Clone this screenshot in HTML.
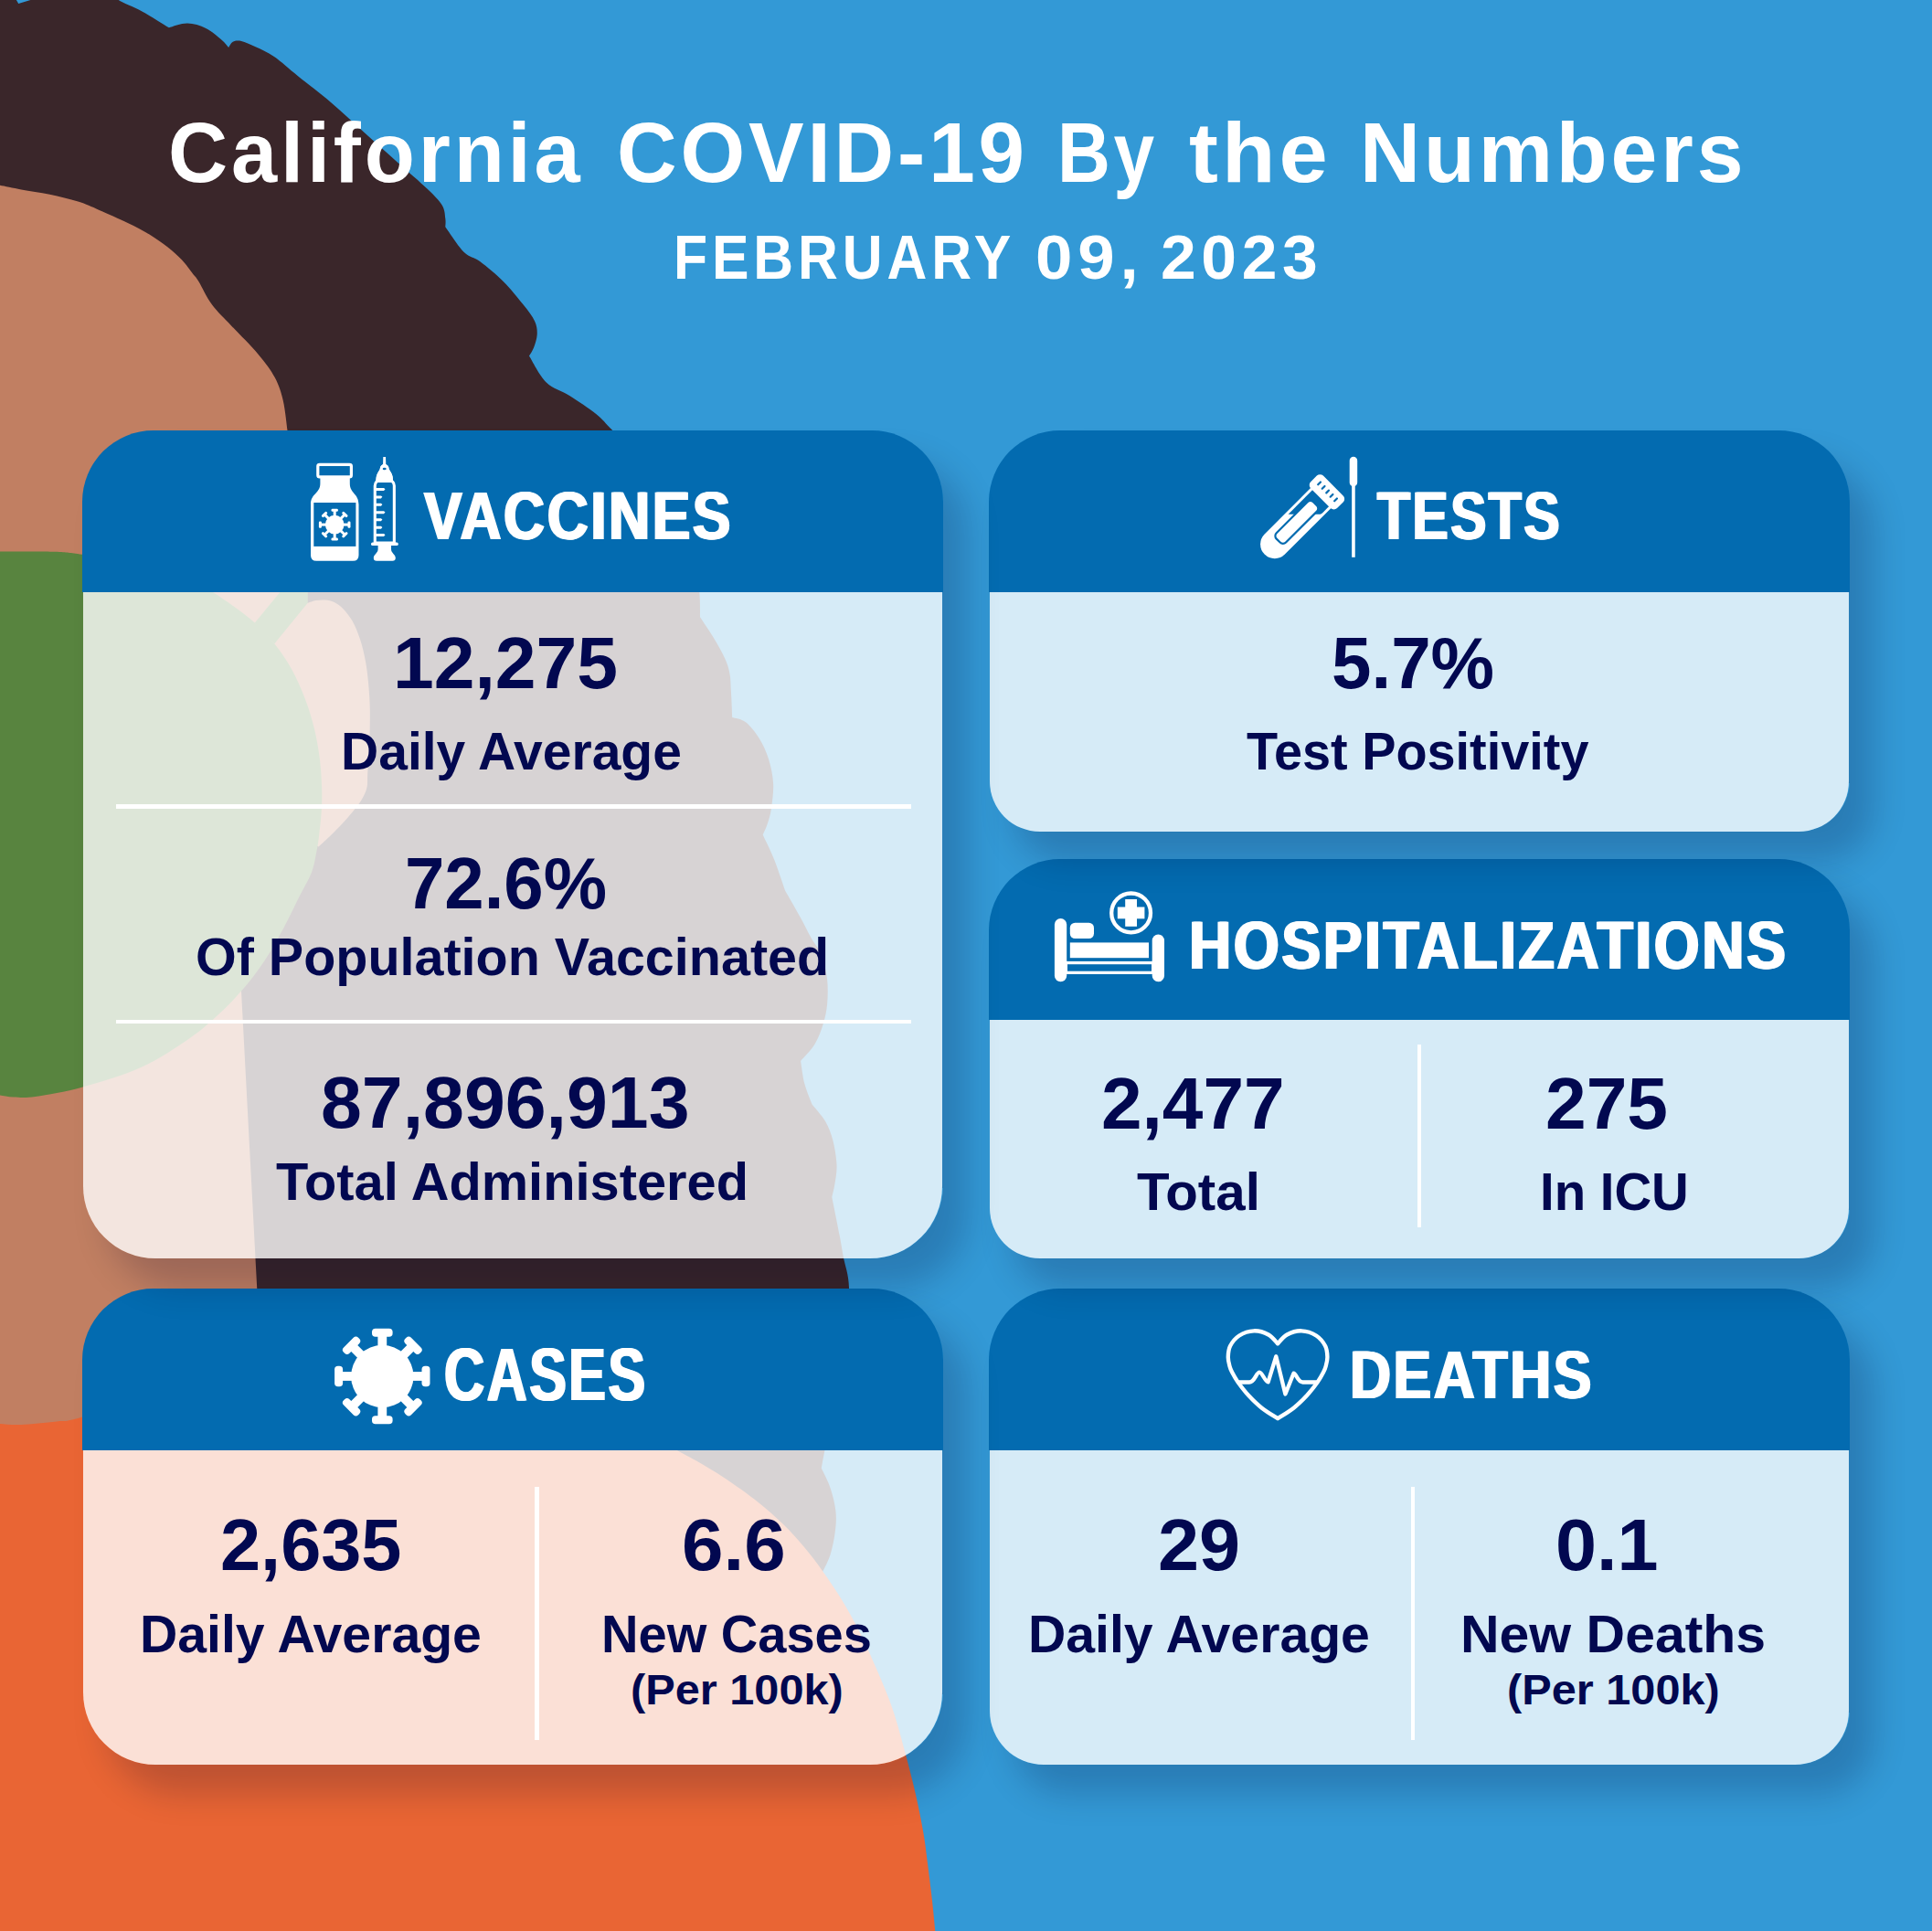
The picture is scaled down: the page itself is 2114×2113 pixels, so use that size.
<!DOCTYPE html>
<html><head><meta charset="utf-8"><title>California COVID-19 By the Numbers</title>
<style>
html,body{margin:0;padding:0}
body{width:2114px;height:2113px;position:relative;overflow:hidden;background:#3399D6;font-family:"Liberation Sans",sans-serif;font-weight:bold}
svg{position:absolute;left:0;top:0}
.card{position:absolute;border-radius:78px;box-shadow:26px 32px 36px rgba(0,0,43,0.19)}
.card .hd{position:absolute;left:0;top:0;right:0;background:#036BB0;border-radius:78px 78px 0 0}
.card .bd{position:absolute;left:1px;right:1px;bottom:0;background:rgba(255,255,255,0.8);border-radius:0 0 77px 77px}
.rs{position:absolute;right:0;width:1px;background:rgba(0,0,43,0.17)}
.hl{position:absolute;height:4.5px;background:#fff}
.vl{position:absolute;width:4.5px;background:#fff}
.t{position:absolute;white-space:nowrap;line-height:1;transform-origin:0 0}
</style></head><body>
<svg width="2114" height="2113" viewBox="0 0 2114 2113">
<path d="M-5,190 L100,190 L250,250 L345,380 L345,1700 L-5,1700 Z" fill="#C17F62"/>
<path d="M278.8,681.4 L334,614.5 L373.9,614.4 L300.4,704.6 Z" fill="#58843F"/>
<path d="M129.7,-5.0 C129.7,-4.2 125.4,-2.9 129.7,0.0 C134.0,2.9 146.2,7.4 155.4,12.4 C164.6,17.4 180.0,27.3 184.9,30.3 C188.2,29.5 198.3,25.5 205.0,25.6 C211.7,25.7 219.1,28.0 225.3,31.0 C231.5,34.0 238.2,40.0 242.3,43.5 C246.4,47.0 248.8,50.6 250.1,52.0 C250.9,51.0 252.5,47.0 254.8,45.8 C257.1,44.6 260.0,44.1 264.1,45.0 C268.2,45.9 273.6,48.4 279.6,51.3 C285.6,54.1 292.3,56.8 300.0,62.1 C307.7,67.4 315.7,75.0 326.0,83.3 C336.3,91.6 349.9,101.7 362.0,112.0 C374.1,122.3 386.5,134.1 398.6,145.0 C410.7,155.9 423.3,167.2 434.8,177.5 C446.3,187.8 459.2,198.7 467.4,206.5 C475.5,214.3 480.4,219.2 483.7,224.6 C487.0,230.0 486.7,235.1 487.3,239.0 C487.9,242.9 487.3,246.7 487.3,248.2 C490.6,252.7 500.9,269.1 507.2,275.4 C513.5,281.7 518.1,280.8 525.4,286.2 C532.6,291.6 542.9,300.1 550.7,308.0 C558.6,315.9 566.8,326.1 572.5,333.3 C578.2,340.5 582.6,345.9 585.1,351.4 C587.6,356.8 587.9,361.2 587.7,366.0 C587.5,370.8 585.5,376.5 584.0,380.4 C582.5,384.3 579.8,388.0 579.0,389.5 C582.1,394.3 590.4,411.2 597.8,418.5 C605.2,425.8 614.1,427.2 623.2,433.0 C632.3,438.8 644.4,446.7 652.2,453.0 C660.1,459.3 661.5,462.3 670.3,471.0 C679.1,479.7 693.4,490.2 705.0,505.0 C716.6,519.8 730.8,542.5 740.0,560.0 C749.2,577.5 755.8,595.3 760.0,610.0 C764.2,624.7 764.3,637.4 765.3,648.3 C766.3,659.2 765.9,670.7 766.0,675.2 C768.5,679.0 776.4,690.4 780.9,698.0 C785.4,705.6 790.4,714.2 793.3,720.8 C796.2,727.4 797.4,731.5 798.5,737.4 C799.6,743.3 799.4,748.1 799.9,756.0 C800.4,763.9 801.0,780.2 801.2,785.0 C803.7,785.9 811.1,786.4 816.0,790.2 C820.9,794.0 826.4,801.1 830.6,807.8 C834.8,814.5 838.4,822.3 841.0,830.6 C843.6,838.9 845.6,848.5 846.1,857.5 C846.6,866.5 845.0,877.1 844.0,884.4 C843.0,891.6 841.4,896.2 839.9,901.0 C838.4,905.8 835.6,911.3 834.7,913.4 C836.8,917.9 843.0,930.0 847.1,940.4 C851.2,950.8 857.5,969.7 859.6,975.6 C862.4,980.4 871.4,996.0 876.1,1004.6 C880.8,1013.2 884.2,1020.3 888.0,1027.0 C891.8,1033.7 896.0,1037.4 898.9,1044.9 C901.8,1052.4 904.1,1062.8 905.1,1071.8 C906.1,1080.8 905.8,1090.8 905.1,1098.7 C904.4,1106.6 903.2,1112.2 901.0,1119.4 C898.8,1126.7 895.9,1135.3 891.7,1142.2 C887.6,1149.1 878.7,1157.8 876.1,1160.9 C876.8,1165.0 878.2,1177.8 880.3,1185.7 C882.4,1193.6 887.2,1204.7 888.6,1208.5 C891.0,1211.6 899.3,1220.5 903.1,1227.1 C906.9,1233.7 909.3,1240.0 911.4,1247.9 C913.5,1255.9 915.2,1266.9 915.5,1274.8 C915.8,1282.7 914.3,1289.6 913.4,1295.5 C912.5,1301.4 910.8,1307.6 910.3,1310.0 C911.7,1316.9 916.5,1340.5 918.6,1351.4 C920.7,1362.3 921.1,1365.5 922.8,1375.2 C924.5,1384.9 928.6,1393.6 929.0,1409.4 C929.4,1425.2 927.8,1448.2 925.0,1470.0 C922.2,1491.8 915.8,1520.5 912.0,1540.0 C908.2,1559.5 904.6,1575.8 902.4,1586.9 C900.2,1598.0 899.4,1603.3 898.8,1606.6 C900.4,1610.2 906.0,1620.6 908.6,1628.4 C911.2,1636.2 913.5,1645.3 914.4,1653.2 C915.3,1661.1 914.8,1668.0 913.8,1676.0 C912.8,1684.0 910.9,1693.7 908.6,1700.9 C906.4,1708.2 901.7,1716.4 900.3,1719.5 L700.0,1760.0 L285.0,1760.0 L281.3,1411.0 L264.0,1084.6 L262.5,1060.0 L300.0,1000.0 L330.0,950.0 L340.0,880.0 L340.0,700.0 L336.8,660.0 L336.8,648.0 L330.0,560.0 L314.5,471.0 C313.7,465.6 312.1,448.1 309.8,438.4 C307.5,428.7 305.2,421.4 300.7,413.0 C296.2,404.6 290.5,397.1 282.6,387.7 C274.8,378.3 262.1,366.0 253.6,356.9 C245.1,347.8 237.9,341.4 231.9,333.3 C225.9,325.2 220.8,313.6 217.4,308.0 C214.0,302.4 214.4,303.9 211.3,300.0 C208.2,296.1 203.6,289.2 198.9,284.3 C194.2,279.4 189.3,275.0 183.3,270.3 C177.3,265.6 170.3,260.7 163.1,256.3 C155.8,251.9 148.9,248.3 139.8,243.9 C130.7,239.5 117.8,233.8 108.7,229.9 C99.6,226.0 94.5,223.4 85.4,220.6 C76.4,217.8 64.8,215.0 54.4,212.8 C44.0,210.6 32.4,209.1 23.3,207.4 C14.2,205.7 4.7,203.6 0.0,202.7 C-4.7,201.8 -4.2,202.1 -5.0,202.0 L-5,-5 L17.9,-5 L17.9,0 L20.2,3.9 L33.4,0 L33.4,-5 Z" fill="#3A262A"/>
<path d="M336.8,659.9 C338.3,659.4 342.7,657.6 345.9,657.1 C349.1,656.6 352.6,656.3 355.9,656.6 C359.2,656.9 362.5,657.5 365.8,659.1 C369.1,660.8 372.4,663.0 375.7,666.5 C379.0,670.0 382.6,674.3 385.7,679.8 C388.8,685.3 391.6,692.4 394.0,699.6 C396.4,706.8 398.3,714.8 399.8,722.8 C401.3,730.8 402.3,739.4 403.1,747.7 C403.9,756.0 404.4,764.2 404.7,772.5 C405.0,780.8 404.8,789.1 404.7,797.4 C404.6,805.7 404.3,813.9 403.9,822.2 C403.5,830.5 402.6,840.5 402.2,847.1 C401.8,853.7 402.5,857.3 401.4,862.0 C400.3,866.7 398.2,870.9 395.6,875.3 C393.0,879.7 389.3,884.1 385.7,888.5 C382.1,892.9 378.0,897.6 374.1,901.8 C370.2,905.9 366.8,909.3 362.5,913.4 C358.2,917.5 350.8,924.4 348.4,926.6 L310,900 L300.4,704.6 Z" fill="#C17F62"/>
<path d="M-5.0,603.4 C-4.2,603.4 -10.8,603.5 0.0,603.6 C10.8,603.7 45.0,603.3 60.0,603.8 C75.0,604.3 75.0,604.9 90.0,606.8 C105.0,608.7 131.7,610.8 150.0,615.0 C168.3,619.2 186.2,626.5 200.0,632.0 C213.8,637.5 219.9,639.8 233.0,648.0 C246.1,656.2 267.6,672.0 278.8,681.4 C290.0,690.8 293.6,696.0 300.4,704.6 C307.2,713.2 313.8,722.6 319.4,732.8 C325.0,743.0 330.1,754.9 334.3,765.9 C338.5,776.9 341.7,788.0 344.3,799.0 C346.9,810.0 348.8,821.4 350.1,832.2 C351.4,843.0 351.9,854.3 352.2,863.7 C352.5,873.1 352.2,880.2 351.7,888.5 C351.2,896.8 350.0,906.5 349.2,913.4 C348.4,920.3 348.1,923.1 346.7,930.0 C345.3,936.9 344.2,946.1 340.9,954.8 C337.6,963.5 332.0,972.0 327.0,982.0 C322.0,992.0 317.0,1003.0 310.7,1014.7 C304.4,1026.4 296.8,1040.3 289.0,1052.0 C281.2,1063.7 272.7,1074.6 264.0,1084.6 C255.3,1094.6 246.5,1103.4 237.0,1112.0 C227.5,1120.6 220.6,1127.2 207.0,1136.4 C193.4,1145.7 174.8,1158.7 155.4,1167.5 C136.0,1176.3 110.0,1184.1 90.6,1189.5 C71.2,1194.9 51.4,1198.1 38.8,1199.9 C26.2,1201.7 21.5,1200.7 15.0,1200.5 C8.5,1200.3 3.3,1198.9 0.0,1198.5 C-3.3,1198.1 -4.2,1198.1 -5.0,1198.0 Z" fill="#58843F"/>
<path d="M-5.0,1557.5 C-4.2,1557.6 -4.7,1557.7 0.0,1557.9 C4.7,1558.2 12.7,1559.4 23.0,1559.0 C33.3,1558.6 50.8,1556.9 62.0,1555.5 C73.2,1554.1 67.0,1557.3 90.0,1550.6 C113.0,1543.8 148.3,1528.4 200.0,1515.0 C251.7,1501.6 340.0,1472.5 400.0,1470.0 C460.0,1467.5 516.7,1487.5 560.0,1500.0 C603.3,1512.5 629.9,1530.5 660.0,1545.0 C690.1,1559.5 720.1,1575.8 740.8,1586.9 C761.5,1598.0 770.1,1602.8 784.3,1611.8 C798.4,1620.8 813.6,1631.5 825.7,1640.8 C837.8,1650.1 847.8,1659.1 856.8,1667.7 C865.8,1676.3 872.4,1684.0 879.6,1692.6 C886.9,1701.2 893.4,1709.8 900.3,1719.5 C907.2,1729.2 914.1,1739.2 921.0,1750.6 C927.9,1762.0 935.1,1774.8 941.7,1787.9 C948.3,1801.0 954.5,1815.5 960.4,1829.3 C966.3,1843.1 971.8,1855.6 976.9,1870.7 C982.0,1885.8 986.8,1904.4 991.0,1920.0 C995.2,1935.6 998.9,1950.0 1002.1,1964.3 C1005.3,1978.6 1008.2,1993.1 1010.4,2005.7 C1012.6,2018.3 1013.5,2027.6 1015.1,2040.0 C1016.7,2052.4 1018.5,2066.7 1020.0,2080.0 C1021.5,2093.3 1023.3,2113.3 1024.0,2120.0 L-5,2120 Z" fill="#E96534"/>
</svg>
<div class="card" id="deaths" style="left:1081.7px;top:1410.4px;width:942.0px;height:520.3px;border-radius:78px 78px 60px 60px"><div class="hd" style="height:176.3px"></div><div class="bd" style="top:176.3px;border-radius:0 0 59px 59px"></div><div class="rs" style="top:176.3px;bottom:57px"></div><div class="vl" style="left:462.0999999999999px;top:216.29999999999995px;height:277px"></div></div>
<div class="card" id="cases" style="left:90px;top:1410.4px;width:941.9px;height:520.3px;border-radius:78px 78px 80px 80px"><div class="hd" style="height:176.3px"></div><div class="bd" style="top:176.3px;border-radius:0 0 79px 79px"></div><div class="rs" style="top:176.3px;bottom:77px"></div><div class="vl" style="left:495px;top:216.29999999999995px;height:277px"></div></div>
<div class="card" id="hosp" style="left:1081.7px;top:940.3px;width:942.0px;height:436.7px;border-radius:78px 78px 56px 56px"><div class="hd" style="height:175.3px"></div><div class="bd" style="top:175.3px;border-radius:0 0 55px 55px"></div><div class="rs" style="top:175.3px;bottom:53px"></div><div class="vl" style="left:468.89999999999986px;top:202.79999999999995px;height:199.5px"></div></div>
<div class="card" id="tests" style="left:1081.7px;top:471px;width:942.0px;height:438.8px;border-radius:78px 78px 56px 56px"><div class="hd" style="height:177px"></div><div class="bd" style="top:177px;border-radius:0 0 55px 55px"></div><div class="rs" style="top:177px;bottom:53px"></div></div>
<div class="card" id="vacc" style="left:90px;top:471px;width:941.9px;height:906.0px;border-radius:78px 78px 80px 80px"><div class="hd" style="height:177px"></div><div class="bd" style="top:177px;border-radius:0 0 79px 79px"></div><div class="rs" style="top:177px;bottom:77px"></div><div class="hl" style="left:37px;top:409.20000000000005px;width:869.5px"></div><div class="hl" style="left:37px;top:644.5999999999999px;width:869.5px"></div></div>
<svg width="2114" height="2113" viewBox="0 0 2114 2113">
<g>
<rect x="347.8" y="508.3" width="36.6" height="13.6" rx="2" fill="#036BB0" stroke="#fff" stroke-width="3.2"/>
<path d="M350.4,523 L382.8,523 L382.8,529 C382.8,540 392.5,540 392.5,552 L392.5,607.5 Q392.5,613.8 386.2,613.8 L346.3,613.8 Q340,613.8 340,607.5 L340,552 C340,540 350.4,540 350.4,529 Z" fill="#fff"/>
<rect x="343.3" y="550" width="46.1" height="47.9" fill="#036BB0"/>
<g transform="translate(366.2,574.1)" fill="#fff"><circle r="10.3"/><g transform="rotate(0)"><rect x="-1.5" y="-15.8" width="3.0" height="7.5"/><rect x="-3.7" y="-17.3" width="7.4" height="3.0" rx="1.26"/></g><g transform="rotate(45)"><rect x="-1.5" y="-15.8" width="3.0" height="7.5"/><rect x="-3.7" y="-17.3" width="7.4" height="3.0" rx="1.26"/></g><g transform="rotate(90)"><rect x="-1.5" y="-15.8" width="3.0" height="7.5"/><rect x="-3.7" y="-17.3" width="7.4" height="3.0" rx="1.26"/></g><g transform="rotate(135)"><rect x="-1.5" y="-15.8" width="3.0" height="7.5"/><rect x="-3.7" y="-17.3" width="7.4" height="3.0" rx="1.26"/></g><g transform="rotate(180)"><rect x="-1.5" y="-15.8" width="3.0" height="7.5"/><rect x="-3.7" y="-17.3" width="7.4" height="3.0" rx="1.26"/></g><g transform="rotate(225)"><rect x="-1.5" y="-15.8" width="3.0" height="7.5"/><rect x="-3.7" y="-17.3" width="7.4" height="3.0" rx="1.26"/></g><g transform="rotate(270)"><rect x="-1.5" y="-15.8" width="3.0" height="7.5"/><rect x="-3.7" y="-17.3" width="7.4" height="3.0" rx="1.26"/></g><g transform="rotate(315)"><rect x="-1.5" y="-15.8" width="3.0" height="7.5"/><rect x="-3.7" y="-17.3" width="7.4" height="3.0" rx="1.26"/></g></g>
</g>
<g>
<path d="M419.3,500 L422,500 L422.3,509 L419,509 Z" fill="#fff"/>
<path d="M422.6,508.3 C423.0,508.6 424.2,509.2 424.8,510.2 C425.4,511.2 425.4,512.9 426.0,514.1 C426.6,515.3 427.5,516.4 428.1,517.6 C428.7,518.8 429.2,519.9 429.5,521.2 C429.8,522.5 429.9,524.4 430.0,525.5 C430.1,526.6 430.0,527.6 430.0,528.0 L411.4,528.0 C411.4,527.6 411.3,526.6 411.4,525.5 C411.5,524.4 411.6,522.5 411.9,521.2 C412.2,519.9 412.7,518.8 413.3,517.6 C413.9,516.4 414.8,515.3 415.4,514.1 C415.9,512.9 416.0,511.2 416.6,510.2 C417.2,509.2 418.4,508.6 418.8,508.3 Z" fill="#fff"/>
<ellipse cx="420.7" cy="513" rx="2" ry="1.3" fill="#036BB0"/>
<path d="M410.25,594 L410.25,531.45 A6,6 0 0 1 416.25,525.45 L425.35,525.45 A6,6 0 0 1 431.35,531.45 L431.35,594 Z" fill="#036BB0" stroke="#fff" stroke-width="3.1"/>
<path d="M422.6,508.3 C423.0,508.6 424.2,509.2 424.8,510.2 C425.4,511.2 425.4,512.9 426.0,514.1 C426.6,515.3 427.5,516.4 428.1,517.6 C428.7,518.8 429.2,519.9 429.5,521.2 C429.8,522.5 429.9,524.4 430.0,525.5 C430.1,526.6 430.0,527.6 430.0,528.0 L411.4,528.0 C411.4,527.6 411.3,526.6 411.4,525.5 C411.5,524.4 411.6,522.5 411.9,521.2 C412.2,519.9 412.7,518.8 413.3,517.6 C413.9,516.4 414.8,515.3 415.4,514.1 C415.9,512.9 416.0,511.2 416.6,510.2 C417.2,509.2 418.4,508.6 418.8,508.3 Z" fill="#fff"/>
<ellipse cx="420.7" cy="513" rx="2" ry="1.3" fill="#036BB0"/>
<path d="M411,534.0 L420.0,534.0 L421.5,535.2 L420.0,537.0 L411,537.0 Z" fill="#fff"/><path d="M411,542.4 L416.9,542.4 L418.4,543.6 L416.9,545.4 L411,545.4 Z" fill="#fff"/><path d="M411,550.8 L416.9,550.8 L418.4,552.0 L416.9,553.8 L411,553.8 Z" fill="#fff"/><path d="M411,559.2 L420.0,559.2 L421.5,560.4000000000001 L420.0,562.2 L411,562.2 Z" fill="#fff"/><path d="M411,567.3 L416.9,567.3 L418.4,568.5 L416.9,570.3 L411,570.3 Z" fill="#fff"/><path d="M411,575.7 L416.9,575.7 L418.4,576.9000000000001 L416.9,578.7 L411,578.7 Z" fill="#fff"/><path d="M411,584.1 L420.0,584.1 L421.5,585.3000000000001 L420.0,587.1 L411,587.1 Z" fill="#fff"/>
<rect x="406" y="593.6" width="29.8" height="3.5" rx="1.7" fill="#fff"/>
<path d="M413.6,596.5 L428,596.5 L428,601 C428,605 432.8,607 432.8,610.5 Q432.8,613.8 429.5,613.8 L412.1,613.8 Q408.8,613.8 408.8,610.5 C408.8,607 413.6,605 413.6,601 Z" fill="#fff"/>
</g>
<g transform="translate(1394.8,595.5) rotate(-45)">
<path d="M0,-15.7 L73,-15.7 L73,15.7 L0,15.7 A15.7,15.7 0 0 1 0,-15.7 Z" fill="#fff"/>
<path d="M33.7,-12.7 L71.3,-12.7 L71.3,12.7 L62,12.7 Q60,12.7 58.5,12.1 Z" fill="#036BB0"/>
<rect x="5.5" y="-7.3" width="57" height="14.6" rx="4.5" fill="#fff" stroke="#036BB0" stroke-width="2.2"/>
<rect x="71.1" y="-20.4" width="19.4" height="40.8" rx="5" fill="#fff"/>
<rect x="78.6" y="-13.7" width="6" height="2.2" rx="1" fill="#036BB0"/><rect x="78.6" y="-7.300000000000001" width="6" height="2.2" rx="1" fill="#036BB0"/><rect x="78.6" y="-0.9000000000000001" width="6" height="2.2" rx="1" fill="#036BB0"/><rect x="78.6" y="5.300000000000001" width="6" height="2.2" rx="1" fill="#036BB0"/><rect x="78.6" y="11.700000000000001" width="6" height="2.2" rx="1" fill="#036BB0"/>
</g>
<rect x="1476.7" y="499.8" width="8.5" height="32.5" rx="4.25" fill="#fff"/>
<rect x="1479.15" y="525" width="3.6" height="84.8" fill="#fff"/>
<g fill="#fff">
<rect x="1153.9" y="1005.1" width="13.3" height="69.2" rx="6.6"/>
<rect x="1260.7" y="1022.5" width="13.3" height="51.8" rx="6.6"/>
<rect x="1170.8" y="1009.7" width="26.2" height="17.3" rx="5.5"/>
<rect x="1170.8" y="1031.4" width="86.2" height="16.8"/>
<rect x="1165" y="1051.9" width="98" height="3.3"/>
<rect x="1165" y="1062.7" width="98" height="3.3"/>
<rect x="1165" y="1051.9" width="3" height="14.1"/>
<rect x="1260" y="1051.9" width="3" height="14.1"/>
<circle cx="1237.6" cy="998.9" r="21.4" fill="none" stroke="#fff" stroke-width="4.3"/>
<rect x="1231.2" y="984" width="12.8" height="29.8"/>
<rect x="1222.8" y="992.5" width="29.6" height="12.8"/>
</g>
<g transform="translate(418.3,1506)" fill="#fff"><circle r="34.2"/><g transform="rotate(0)"><rect x="-4.9" y="-47.7" width="9.8" height="15.5"/><rect x="-11.3" y="-52.2" width="22.6" height="9" rx="3.78"/></g><g transform="rotate(45)"><rect x="-4.9" y="-47.7" width="9.8" height="15.5"/><rect x="-11.3" y="-52.2" width="22.6" height="9" rx="3.78"/></g><g transform="rotate(90)"><rect x="-4.9" y="-47.7" width="9.8" height="15.5"/><rect x="-11.3" y="-52.2" width="22.6" height="9" rx="3.78"/></g><g transform="rotate(135)"><rect x="-4.9" y="-47.7" width="9.8" height="15.5"/><rect x="-11.3" y="-52.2" width="22.6" height="9" rx="3.78"/></g><g transform="rotate(180)"><rect x="-4.9" y="-47.7" width="9.8" height="15.5"/><rect x="-11.3" y="-52.2" width="22.6" height="9" rx="3.78"/></g><g transform="rotate(225)"><rect x="-4.9" y="-47.7" width="9.8" height="15.5"/><rect x="-11.3" y="-52.2" width="22.6" height="9" rx="3.78"/></g><g transform="rotate(270)"><rect x="-4.9" y="-47.7" width="9.8" height="15.5"/><rect x="-11.3" y="-52.2" width="22.6" height="9" rx="3.78"/></g><g transform="rotate(315)"><rect x="-4.9" y="-47.7" width="9.8" height="15.5"/><rect x="-11.3" y="-52.2" width="22.6" height="9" rx="3.78"/></g></g>
<path d="M1398.1,1470.3 C1396.4,1468.7 1392.3,1462.8 1388.0,1460.5 C1383.7,1458.2 1377.3,1456.1 1372.0,1456.3 C1366.7,1456.5 1360.3,1458.7 1356.0,1461.5 C1351.7,1464.3 1348.0,1469.1 1346.0,1473.0 C1344.0,1476.9 1343.9,1481.2 1343.8,1484.9 C1343.7,1488.6 1344.8,1492.2 1345.5,1495.0 C1346.2,1497.8 1346.6,1498.7 1348.1,1501.6 C1349.6,1504.5 1351.6,1508.3 1354.6,1512.5 C1357.6,1516.7 1361.8,1522.3 1366.2,1527.0 C1370.6,1531.7 1375.4,1536.5 1380.7,1540.7 C1386.0,1544.9 1395.2,1550.3 1398.1,1552.2 C1401.0,1550.3 1410.2,1544.9 1415.5,1540.7 C1420.8,1536.5 1425.6,1531.7 1430.0,1527.0 C1434.3,1522.3 1438.6,1516.7 1441.6,1512.5 C1444.6,1508.3 1446.6,1504.5 1448.1,1501.6 C1449.6,1498.7 1450.0,1497.8 1450.7,1495.0 C1451.4,1492.2 1452.5,1488.6 1452.4,1484.9 C1452.3,1481.2 1452.2,1476.9 1450.2,1473.0 C1448.2,1469.1 1444.5,1464.3 1440.2,1461.5 C1435.9,1458.7 1429.5,1456.5 1424.2,1456.3 C1418.9,1456.1 1412.5,1458.2 1408.2,1460.5 C1403.8,1462.8 1399.8,1468.7 1398.1,1470.3 Z" fill="none" stroke="#fff" stroke-width="4.35" stroke-linejoin="round"/>
<path d="M1356,1512.5 L1367,1512.5 C1373,1512.5 1374.5,1501.6 1378.2,1501.6 C1381,1501.6 1384.5,1512.3 1387.6,1512.3 L1396.3,1484.2 L1406.4,1525.5 L1415.5,1502.7 C1418.5,1502.7 1419.5,1512.5 1425.5,1512.5 L1440,1512.5" fill="none" stroke="#fff" stroke-width="4.3" stroke-linejoin="round" stroke-linecap="round"/>
</svg>
<div class="t" style="left:184.1px;top:121.0px;font-size:93px;color:#fff;letter-spacing:4.00px;transform:scaleX(0.9694)">California</div>
<div class="t" style="left:674.6px;top:121.0px;font-size:93px;color:#fff;letter-spacing:4.00px;transform:scaleX(0.9763)">COVID-19</div>
<div class="t" style="left:1157.3px;top:121.0px;font-size:93px;color:#fff;letter-spacing:4.00px;transform:scaleX(0.8625)">By</div>
<div class="t" style="left:1300.5px;top:121.0px;font-size:93px;color:#fff;letter-spacing:4.00px;transform:scaleX(1.0294)">the</div>
<div class="t" style="left:1487.6px;top:121.0px;font-size:93px;color:#fff;letter-spacing:4.00px;transform:scaleX(0.9823)">Numbers</div>
<div class="t" style="left:737.4px;top:248.2px;font-size:67.7px;color:#fff;letter-spacing:5.50px;transform:scaleX(0.8961)">FEBRUARY</div>
<div class="t" style="left:1132.9px;top:248.2px;font-size:67.7px;color:#fff;letter-spacing:5.50px;transform:scaleX(1.0730)">09,</div>
<div class="t" style="left:1269.9px;top:248.2px;font-size:67.7px;color:#fff;letter-spacing:5.50px;transform:scaleX(1.0281)">2023</div>
<div class="t" style="left:464.3px;top:528.1px;font-size:74px;color:#fff;transform:scaleX(0.8431);letter-spacing:3px;text-shadow:1.5px 0 0 #fff,-1.5px 0 0 #fff">VACCINES</div>
<div class="t" style="left:1506.7px;top:528.2px;font-size:74px;color:#fff;transform:scaleX(0.7965);letter-spacing:3px;text-shadow:1.5px 0 0 #fff,-1.5px 0 0 #fff">TESTS</div>
<div class="t" style="left:1300.8px;top:997.7px;font-size:74px;color:#fff;transform:scaleX(0.8666);letter-spacing:3px;text-shadow:1.5px 0 0 #fff,-1.5px 0 0 #fff">HOSPITALIZATIONS</div>
<div class="t" style="left:486.4px;top:1463.6px;font-size:80.7px;color:#fff;transform:scaleX(0.7592);letter-spacing:3px;text-shadow:1.5px 0 0 #fff,-1.5px 0 0 #fff">CASES</div>
<div class="t" style="left:1477.4px;top:1468.1px;font-size:74px;color:#fff;transform:scaleX(0.8425);letter-spacing:3px;text-shadow:1.5px 0 0 #fff,-1.5px 0 0 #fff">DEATHS</div>
<div class="t" style="left:430.0px;top:685.6px;font-size:80px;color:#020850;transform:scaleX(1.0055)">12,275</div>
<div class="t" style="left:443.1px;top:927.4px;font-size:80px;color:#020850;transform:scaleX(0.9744)">72.6%</div>
<div class="t" style="left:351.0px;top:1167.4px;font-size:80px;color:#020850;transform:scaleX(1.0078)">87,896,913</div>
<div class="t" style="left:1457.0px;top:685.6px;font-size:80px;color:#020850;transform:scaleX(0.9767)">5.7%</div>
<div class="t" style="left:1204.5px;top:1168.1px;font-size:80px;color:#020850;transform:scaleX(1.0016)">2,477</div>
<div class="t" style="left:1691.0px;top:1168.1px;font-size:80px;color:#020850;transform:scaleX(1.0042)">275</div>
<div class="t" style="left:240.5px;top:1651.3px;font-size:80px;color:#020850;transform:scaleX(0.9914)">2,635</div>
<div class="t" style="left:745.5px;top:1651.3px;font-size:80px;color:#020850;transform:scaleX(1.0216)">6.6</div>
<div class="t" style="left:1267.0px;top:1651.3px;font-size:80px;color:#020850;transform:scaleX(1.0124)">29</div>
<div class="t" style="left:1701.5px;top:1651.3px;font-size:80px;color:#020850;transform:scaleX(1.0121)">0.1</div>
<div class="t" style="left:372.5px;top:794.9px;font-size:56.5px;color:#020850;transform:scaleX(1.0091)">Daily Average</div>
<div class="t" style="left:213.5px;top:1020.0px;font-size:56.5px;color:#020850;transform:scaleX(1.0174)">Of Population Vaccinated</div>
<div class="t" style="left:301.5px;top:1265.6px;font-size:56.5px;color:#020850;transform:scaleX(1.0229)">Total Administered</div>
<div class="t" style="left:1364.0px;top:794.9px;font-size:56.5px;color:#020850;transform:scaleX(0.9883)">Test Positivity</div>
<div class="t" style="left:1244.0px;top:1277.1px;font-size:56.5px;color:#020850;transform:scaleX(1.0310)">Total</div>
<div class="t" style="left:1685.0px;top:1277.1px;font-size:56.5px;color:#020850;transform:scaleX(0.9976)">In ICU</div>
<div class="t" style="left:152.5px;top:1760.6px;font-size:56.5px;color:#020850;transform:scaleX(1.0118)">Daily Average</div>
<div class="t" style="left:658.0px;top:1760.6px;font-size:56.5px;color:#020850;transform:scaleX(0.9918)">New Cases</div>
<div class="t" style="left:1124.5px;top:1760.6px;font-size:56.5px;color:#020850;transform:scaleX(1.0118)">Daily Average</div>
<div class="t" style="left:1598.4px;top:1760.6px;font-size:56.5px;color:#020850;transform:scaleX(1.0433)">New Deaths</div>
<div class="t" style="left:690.4px;top:1825.2px;font-size:47px;color:#020850;transform:scaleX(1.0361)">(Per 100k)</div>
<div class="t" style="left:1648.9px;top:1825.2px;font-size:47px;color:#020850;transform:scaleX(1.0361)">(Per 100k)</div>
</body></html>
